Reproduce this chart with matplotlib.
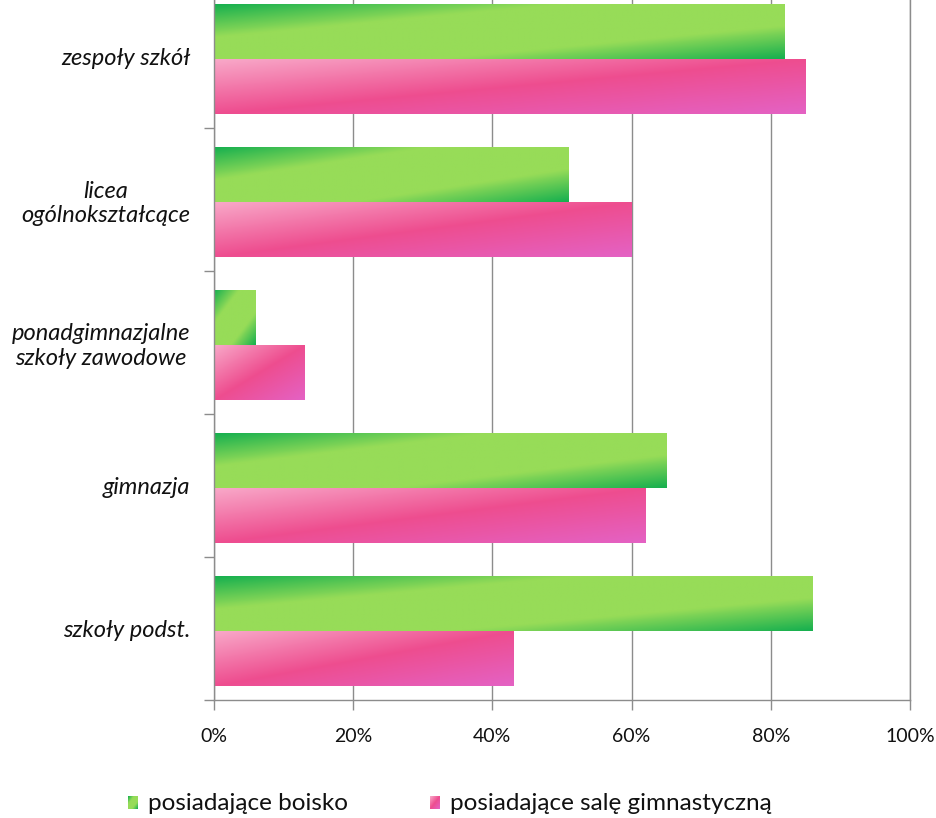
import numpy as np
import matplotlib
matplotlib.use("Agg")
import matplotlib.pyplot as plt
from matplotlib.colors import LinearSegmentedColormap

# ---- data ----
categories = ["szkoły podst.", "gimnazja", "ponadgimnazjalne\nszkoły zawodowe",
              "licea\nogólnokształcące", "zespoły szkół"]
boisko = [86, 65, 6, 51, 82]          # posiadające boisko (%)
sala = [43, 62, 13, 60, 85]           # posiadające salę gimnastyczną (%)
series_names = ["posiadające boisko", "posiadające salę gimnastyczną"]
xticks = [0, 20, 40, 60, 80, 100]
xticklabels = ["0%", "20%", "40%", "60%", "80%", "100%"]

plt.rcParams['font.family'] = ['Lato', 'DejaVu Sans']

green_cmap = LinearSegmentedColormap.from_list(
    "g", [(0.0, "#17b04f"), (0.3, "#97dc58"), (0.7, "#97dc58"), (1.0, "#17b04f")])
pink_cmap = LinearSegmentedColormap.from_list(
    "p", [(0.0, "#f8a8c8"), (0.5, "#ee4d8f"), (1.0, "#e462c4")])


def grad_img(cmap, n=64):
    u = np.linspace(0, 1, n)[None, :]
    v = np.linspace(0, 1, n)[:, None]
    t = (u + v) / 2.0
    return cmap(t)


fig = plt.figure(figsize=(9.36, 8.18), dpi=100)
W, H = 936, 818
ax = fig.add_axes([214 / W, (H - 700) / H, (910 - 214) / W, 700 / H])

y = np.arange(len(categories))
h = 0.38
off = -0.02
bars_g = ax.barh(y + off + h / 2, boisko, height=h, facecolor="none", edgecolor="none")
bars_p = ax.barh(y + off - h / 2, sala, height=h, facecolor="none", edgecolor="none")

for bars, cmap in [(bars_g, green_cmap), (bars_p, pink_cmap)]:
    img = grad_img(cmap)
    for p in bars.patches:
        x0, y0 = p.get_x(), p.get_y()
        w, hh = p.get_width(), p.get_height()
        ax.imshow(img, extent=[x0, x0 + w, y0, y0 + hh], origin="upper",
                  aspect="auto", interpolation="bilinear", zorder=2)

gray = "#8c8c8c"
ax.set_xticks(xticks)
ax.set_xticklabels(xticklabels, fontsize=14)
ax.xaxis.grid(True, color=gray, linewidth=1)
ax.set_axisbelow(True)
ax.tick_params(axis="x", length=7, width=1, color=gray, pad=13, labelcolor="#111111")

ax.set_yticks(np.arange(len(categories)) - 0.5)
ax.set_yticklabels([])
ax.set_yticks(y, minor=True)
ax.set_yticklabels(categories, minor=True, fontsize=17, style="italic",
                   multialignment="center", color="#111111")
ax.tick_params(axis="y", which="major", length=7, width=1, color=gray)
ax.tick_params(axis="y", which="minor", length=0, pad=17)

ax.set_xlim(0, 100)
ax.set_ylim(-0.5, -0.5 + 700 / 143)

ax.spines["top"].set_visible(False)
for s in ["left", "bottom", "right"]:
    ax.spines[s].set_color(gray)
    ax.spines[s].set_linewidth(1)

# legend
for (px, cmap, name) in [(128, green_cmap, series_names[0]),
                          (430, pink_cmap, series_names[1])]:
    sax = fig.add_axes([px / W, (H - 809) / H, 10 / W, 13 / H])
    sax.imshow(grad_img(cmap, 16), aspect="auto", interpolation="bilinear")
    sax.axis("off")
    fig.text((px + 20) / W, (H - 803) / H, name, fontsize=17.5, va="center",
             ha="left", color="#111111")

fig.savefig("out.png", dpi=100)
